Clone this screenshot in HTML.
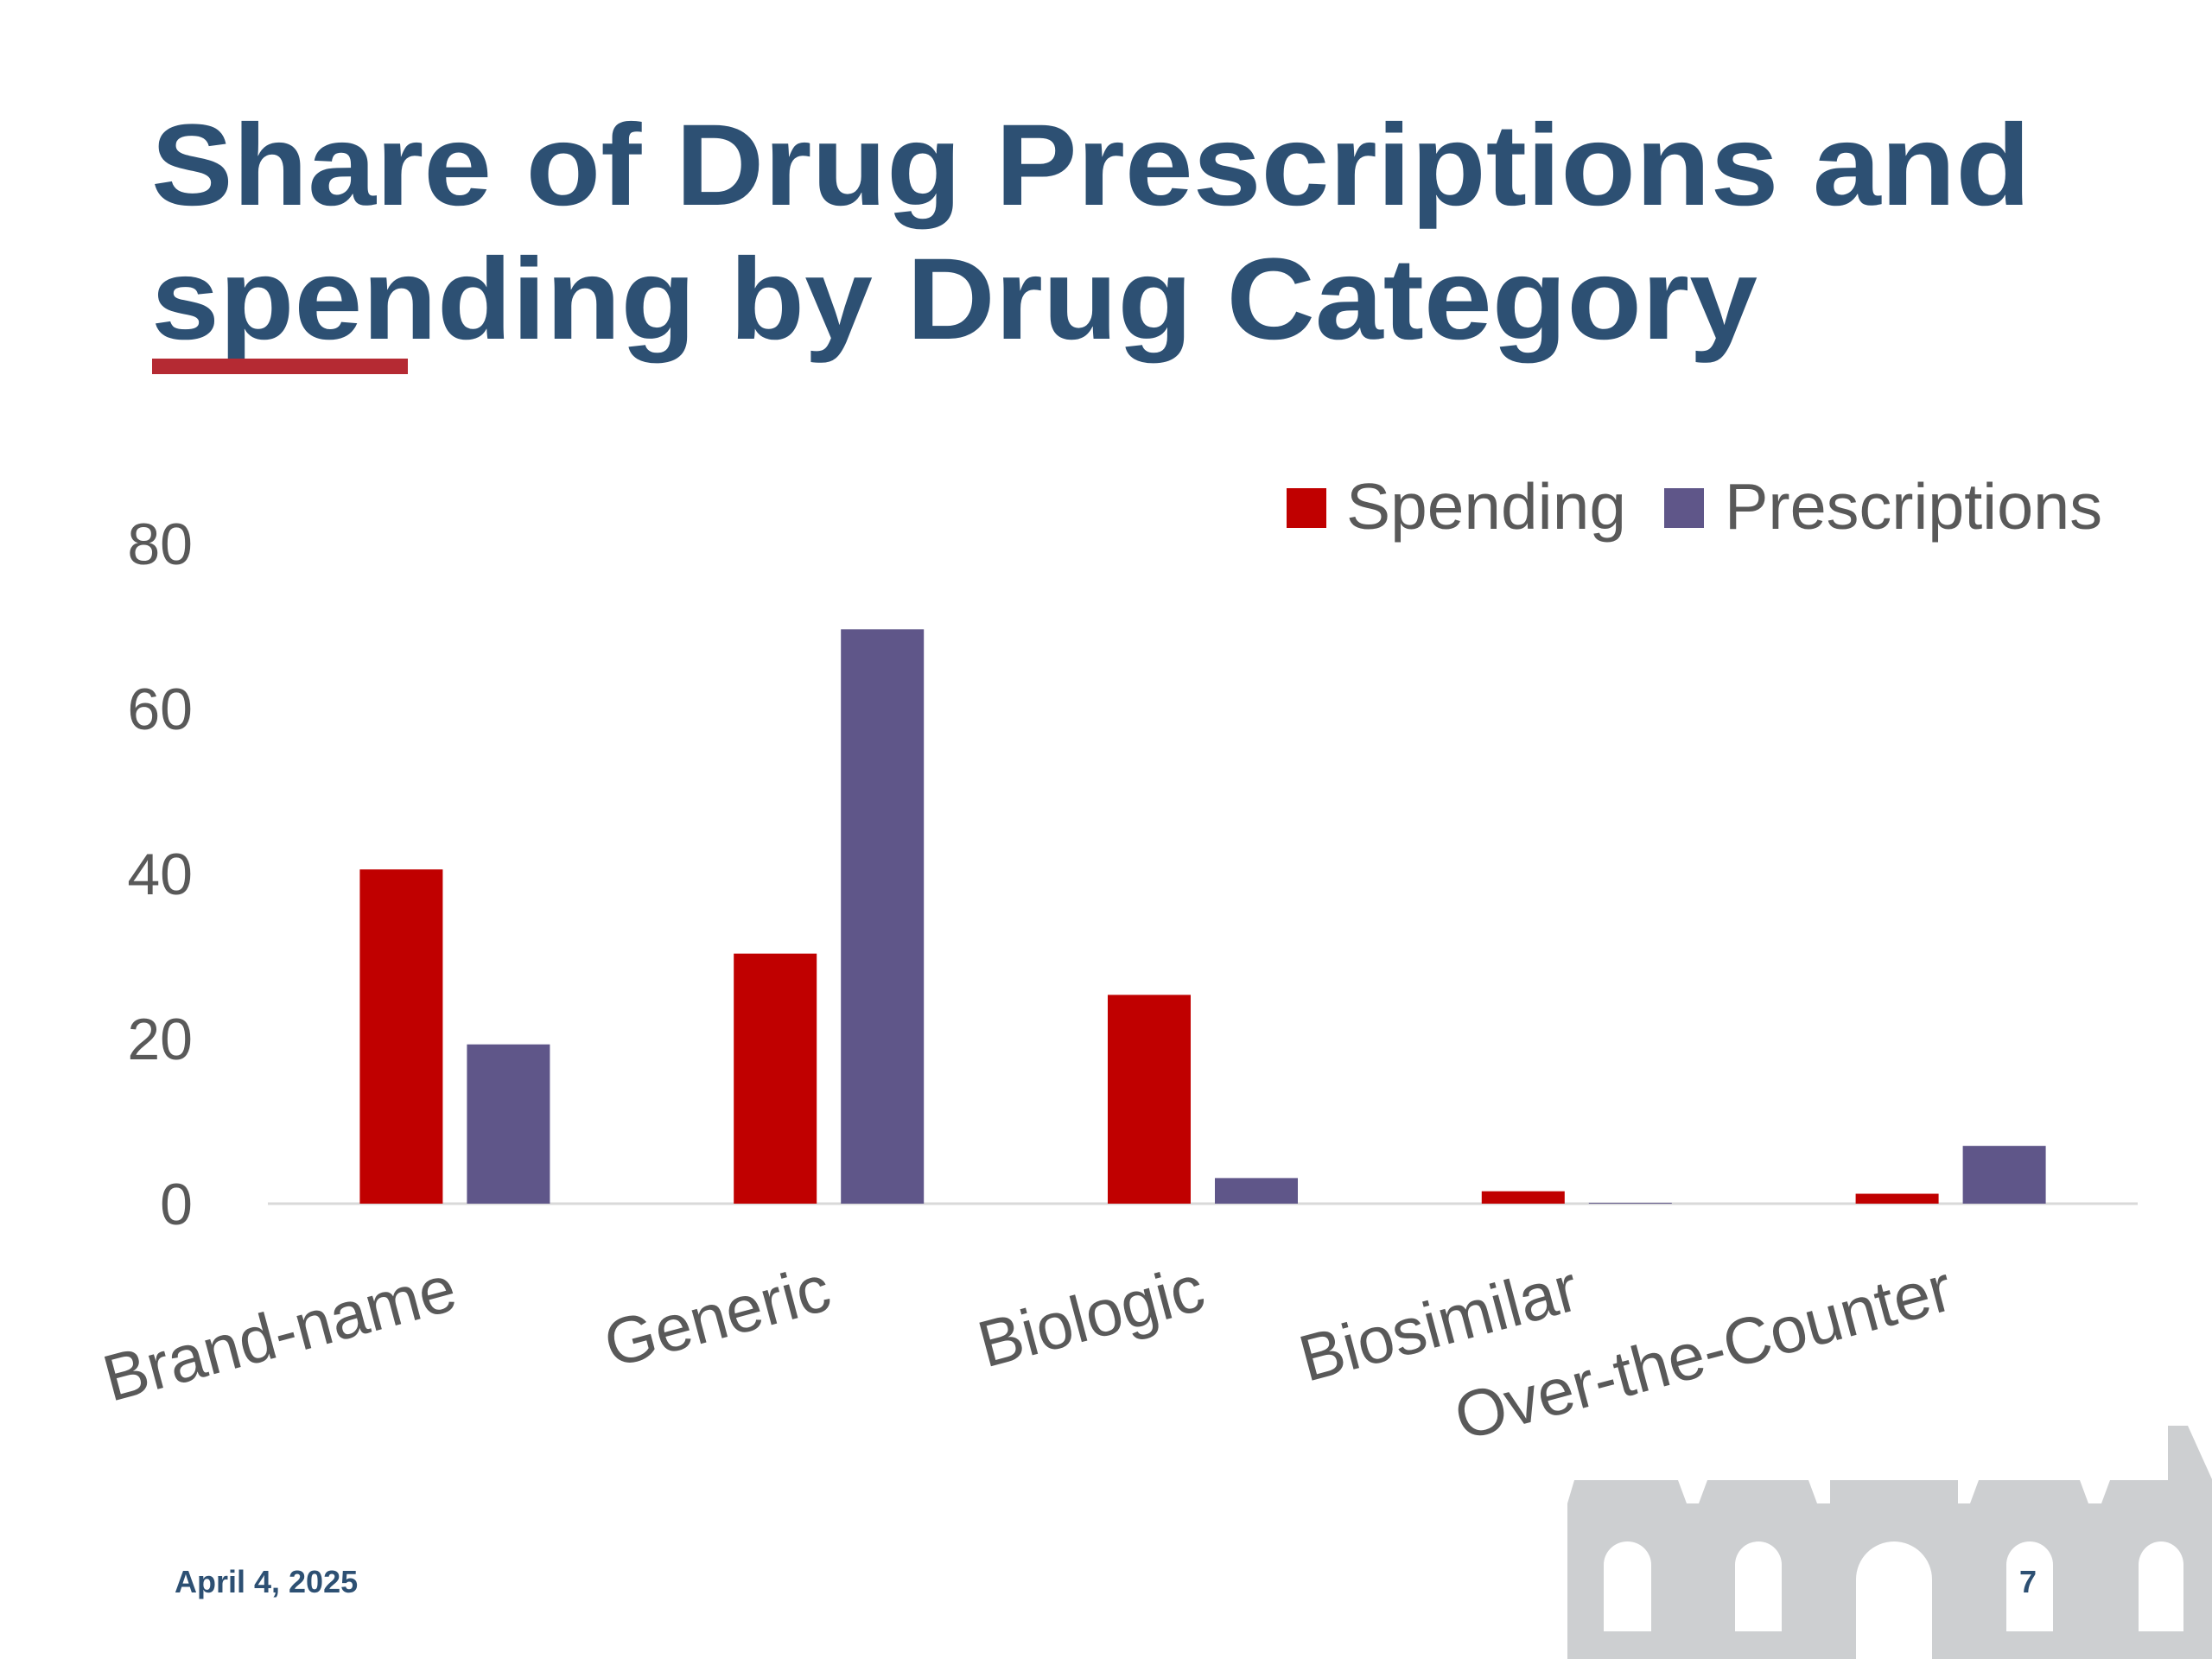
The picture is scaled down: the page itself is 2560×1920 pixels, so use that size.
<!DOCTYPE html>
<html><head><meta charset="utf-8"><style>
html,body{margin:0;padding:0;background:#fff;}
svg{display:block;}
</style></head><body>
<svg width="2560" height="1920" viewBox="0 0 2560 1920" xmlns="http://www.w3.org/2000/svg" id="chart">
<g font-family="Liberation Sans, sans-serif" font-weight="bold" font-size="134" fill="#2d5073">
<text x="175" y="237" textLength="2175" lengthAdjust="spacingAndGlyphs">Share of Drug Prescriptions and</text>
<text x="175" y="392" textLength="1859" lengthAdjust="spacingAndGlyphs">spending by Drug Category</text>
</g>
<rect x="176" y="415" width="296" height="18" fill="#b52a33"/>
<g id="building" fill="#cdcfd1">
<path d="M1814 1920 L1814 1740 L1822 1713 L1942 1713 L1952 1740 L1966 1740 L1976 1713 L2093 1713 L2103 1740 L2118 1740 L2118 1713 L2266 1713 L2266 1740 L2280 1740 L2290 1713 L2407 1713 L2417 1740 L2432 1740 L2442 1713 L2509 1713 L2509 1650 L2532 1650 L2560 1712 L2560 1920 Z"/>
<g fill="#fff">
<path d="M1856 1888 L1856 1811 A27.5 27 0 0 1 1911 1811 L1911 1888 Z"/>
<path d="M2008 1888 L2008 1811 A27 27 0 0 1 2062 1811 L2062 1888 Z"/>
<path d="M2148 1920 L2148 1828 A44 44 0 0 1 2236 1828 L2236 1920 Z"/>
<path d="M2322 1888 L2322 1811 A27 27 0 0 1 2376 1811 L2376 1888 Z"/>
<path d="M2475 1888 L2475 1811 A26 27 0 0 1 2527 1811 L2527 1888 Z"/>
</g>
</g>
<text x="202" y="1843" font-family="Liberation Sans, sans-serif" font-weight="bold" font-size="36" fill="#2d5073">April 4, 2025</text>
<text x="2347" y="1843" text-anchor="middle" font-family="Liberation Sans, sans-serif" font-weight="bold" font-size="36" fill="#2d5073">7</text>
<g id="legend" font-family="Liberation Sans, sans-serif" font-size="75" fill="#595959">
<rect x="1489" y="565" width="46" height="46" fill="#c00000"/>
<text x="1558" y="612" textLength="324" lengthAdjust="spacingAndGlyphs">Spending</text>
<rect x="1926" y="565" width="46" height="46" fill="#5f5689"/>
<text x="1996" y="612" textLength="437" lengthAdjust="spacingAndGlyphs">Prescriptions</text>
</g>
<g id="plot"></g>
</svg>
<script>
const categories = ["Brand-name","Generic","Biologic","Biosimilar","Over-the-Counter"];
const spending = [40.5, 30.3, 25.3, 1.5, 1.2];
const prescriptions = [19.3, 69.6, 3.1, 0.1, 7.0];
const yTicks = [0, 20, 40, 60, 80];

const NS = "http://www.w3.org/2000/svg";
const plot = document.getElementById("plot");
const x0 = 310, x1 = 2474, yBase = 1393, yTop = 629, yMax = 80;
const band = (x1 - x0) / categories.length;
const barW = 96, gap = 28;
function y(v){ return yBase - (v / yMax) * (yBase - yTop); }
function xc(i){ return x0 + band * (i + 0.5); }
function mk(tag, attrs){ const e = document.createElementNS(NS, tag); for (const k in attrs) e.setAttribute(k, attrs[k]); plot.appendChild(e); return e; }

yTicks.forEach(t => {
  const e = mk("text", {x: 223, y: y(t) + 24, "text-anchor": "end", "font-family": "Liberation Sans, sans-serif", "font-size": "68", fill: "#595959"});
  e.textContent = t;
  
  
});
const axis = mk("line", {x1: x0, x2: x1, y1: yBase, y2: yBase, stroke: "#d9d9d9", "stroke-width": 3});



categories.forEach((c, i) => {
  const cx = xc(i);
  const s = mk("rect", {x: cx - gap/2 - barW, y: y(spending[i]), width: barW, height: yBase - y(spending[i]), fill: "#c00000"});
  
  
  const p = mk("rect", {x: cx + gap/2, y: y(prescriptions[i]), width: barW, height: Math.max(1, yBase - y(prescriptions[i])), fill: "#5f5689"});
  
  
  const lx = cx + 6, ly = 1514;
  const t = mk("text", {x: lx, y: ly, "text-anchor": "end", transform: `rotate(-15 ${lx} ${ly})`, "font-family": "Liberation Sans, sans-serif", "font-size": "76", fill: "#595959"});
  t.textContent = c;
  
  
});
</script>
</body></html>
